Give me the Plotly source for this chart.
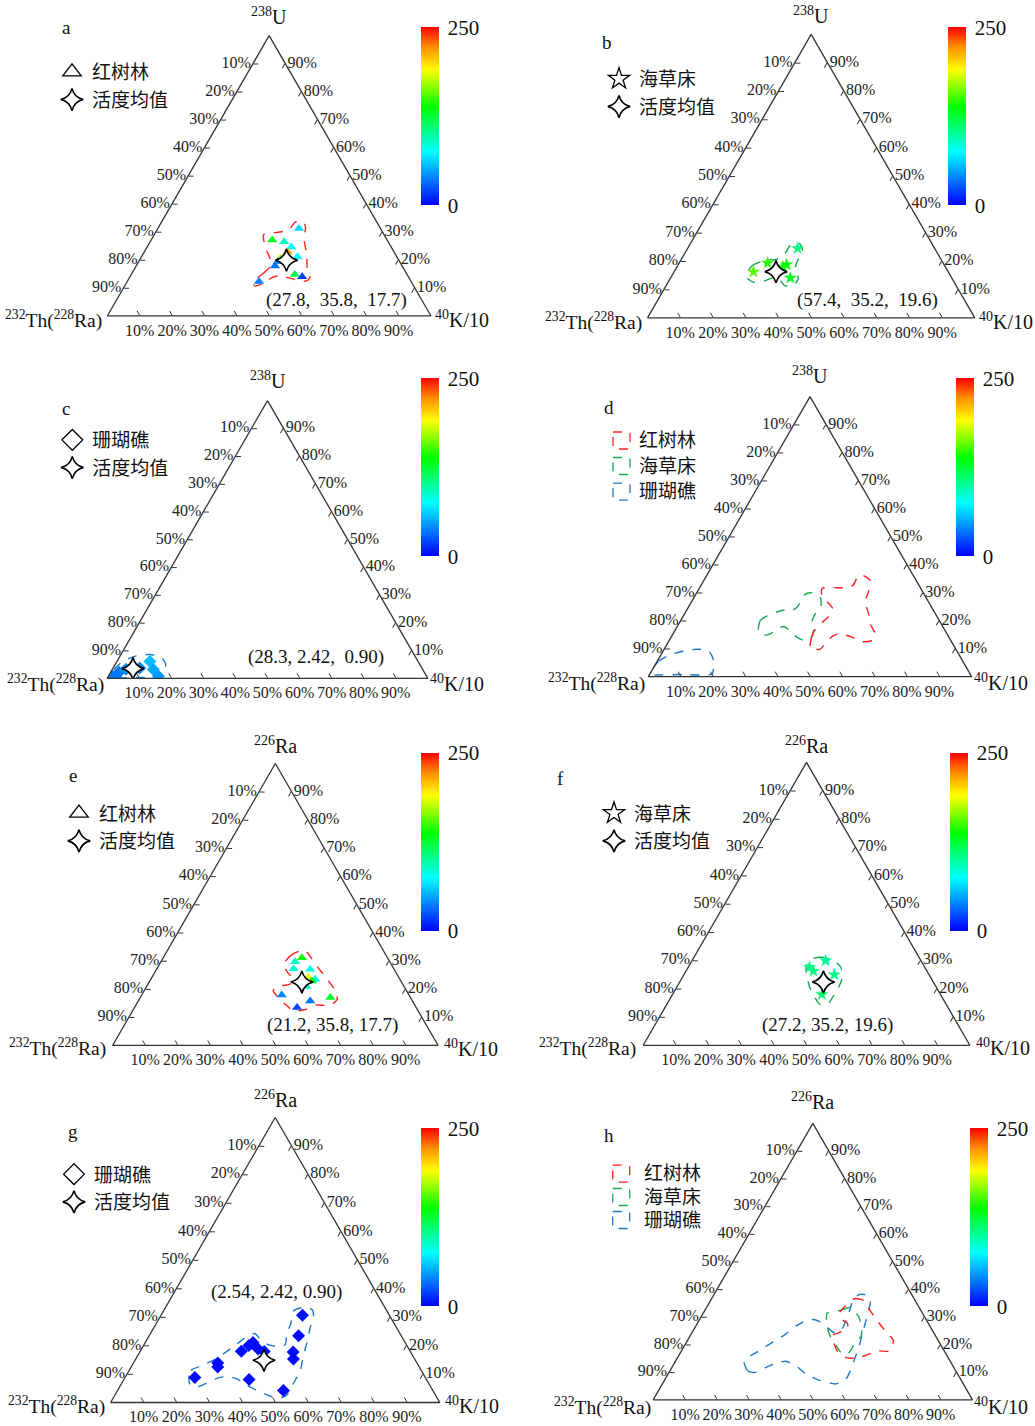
import plotly.graph_objects as go

PW, PH = 1035, 1426
SERIF = "Liberation Serif, Times New Roman, serif"
CJK = "Liberation Serif, Noto Sans CJK SC, sans-serif"

# ---------------- tick labels ----------------
TICK_PCT = [10, 20, 30, 40, 50, 60, 70, 80, 90]
TICK_TEXT = ['10%', '20%', '30%', '40%', '50%', '60%', '70%', '80%', '90%']
CB_TICKS = [0, 250]
CB_TEXT = ['0', '250']

# ---------------- point data (top component %, K/10 %) ----------------
# a: mangrove (U-Th-K)
A_U = [31.2, 27.1, 26.5, 24.6, 22.8, 21.1, 20.5, 19.3, 17.8, 14.8, 14.0, 12.3]
A_K = [43.6, 37.4, 41.4, 44.5, 44.3, 48.2, 43.2, 43.0, 42.9, 50.5, 53.2, 40.7]
A_V = [63, 130, 90, 75, 215, 75, 170, 45, 33, 120, 18, 37]
A_MEAN = (19.9, 45.4)
# b: seagrass
B_U = [16.2, 19.4, 18.0, 18.8, 14.1, 24.5]
B_K = [24.3, 27.0, 32.4, 33.1, 36.6, 33.6]
B_V = [155, 145, 140, 138, 130, 105]
B_MEAN = (16.3, 31.1)
# c: coral reef
C_U = [0.8, 2.2, 3.3, 3.7, 6.1, 3.2, 0.8, 0.5]
C_K = [2.3, 2.6, 4.2, 8.3, 10.3, 12.8, 15.6, 1.2]
C_V = [40, 35, 45, 40, 55, 50, 45, 35]
C_MEAN = (3.5, 6.3)
# e: mangrove (Ra-Th-K)
E_R = [31.1, 29.7, 27.2, 27.0, 24.3, 23.5, 22.9, 20.9, 17.9, 15.8, 13.5, 17.0]
E_K = [42.6, 41.2, 42.0, 47.2, 47.9, 50.5, 49.8, 49.1, 43.0, 52.8, 49.9, 58.4]
E_V = [140, 90, 85, 80, 185, 80, 130, 85, 40, 35, 20, 125]
E_MEAN = (22.5, 46.9)
# f: seagrass
F_R = [27.6, 26.2, 29.9, 25.0, 18.0]
F_K = [37.1, 39.0, 40.9, 46.0, 45.7]
F_V = [105, 105, 100, 105, 110]
F_MEAN = (22.4, 44.0)
# g: coral reef
G_R = [8.8, 13.9, 12.5, 18.0, 20.0, 21.1, 18.8, 17.9, 8.1, 4.2, 17.7, 15.3, 23.4, 30.6]
G_K = [21.2, 25.6, 26.3, 30.7, 32.0, 32.7, 35.4, 37.7, 38.0, 50.4, 46.6, 47.9, 45.4, 43.0]
G_V = [3, 4, 3, 3, 4, 3, 3, 4, 3, 3, 4, 3, 3, 4]
G_MEAN = (14.8, 39.2)

# ---------------- envelope contours (top %, K %) ----------------
CA_U = [12.3, 15.2, 18.4, 24.0, 28.9, 29.8, 30.6, 33.5, 33.9, 31.9, 27.5, 22.2, 17.5, 14.4, 12.5, 12.8, 13.4, 14.4, 13.7, 11.6, 10.7]
CA_K = [38.9, 40.6, 41.6, 37.0, 33.8, 37.5, 40.7, 41.3, 43.2, 45.3, 47.0, 50.5, 53.0, 55.6, 55.4, 52.3, 49.9, 46.2, 44.0, 42.4, 40.2]
CB_U = [16.0, 18.5, 20.5, 20.6, 22.6, 25.7, 26.3, 23.7, 19.7, 16.8, 13.9, 11.4, 11.4, 13.3, 14.1, 13.0, 12.5, 13.9]
CB_K = [22.5, 22.8, 26.0, 29.0, 30.6, 30.9, 33.3, 35.5, 35.8, 36.6, 39.2, 38.8, 36.2, 33.8, 31.2, 29.2, 26.3, 23.6]
CC_U = [0.2, 3.2, 6.1, 8.1, 8.6, 7.8, 5.3, 2.6, 0.6, 0.3, 0.1]
CC_K = [0.4, 0.5, 1.8, 5.0, 9.0, 12.7, 15.6, 16.5, 16.3, 9.0, 1.0]
CDR_U = [10.1, 14.2, 16.7, 18.8, 22.1, 24.6, 26.7, 28.6, 31.5, 31.8, 31.8, 32.7, 36.1, 36.1, 34.4, 30.4, 26.9, 22.3, 18.8, 15.9, 13.1, 12.5, 14.2, 15.3, 14.4, 12.1, 9.8, 9.8]
CDR_K = [45.0, 43.4, 43.2, 43.8, 45.3, 44.6, 42.0, 39.4, 38.0, 41.5, 45.3, 47.0, 46.9, 48.5, 51.4, 52.9, 53.6, 57.0, 59.2, 62.0, 62.9, 59.8, 55.7, 51.4, 49.7, 48.8, 48.3, 46.0]
CDG_U = [16.5, 20.0, 21.7, 23.7, 23.8, 25.2, 28.1, 29.8, 29.8, 28.1, 25.2, 22.5, 19.4, 17.1, 14.0, 12.8, 13.5, 15.1, 17.9, 17.1, 15.3, 14.8]
CDG_K = [25.8, 24.6, 25.9, 29.7, 32.8, 33.7, 33.4, 34.2, 36.7, 39.2, 40.8, 40.4, 40.8, 42.6, 43.5, 42.3, 40.1, 37.2, 33.1, 31.4, 30.1, 28.2]
CDB_U = [1.5, 5.5, 7.9, 9.4, 9.8, 9.2, 6.7, 3.2, 0.9, 0.8, 0.8]
CDB_K = [0.0, 0.4, 3.0, 7.0, 10.5, 14.0, 16.6, 18.6, 19.2, 10.3, 0.7]
CE_U = [33.8, 32.2, 28.7, 25.6, 23.5, 21.7, 20.9, 19.3, 17.0, 14.7, 12.3, 12.9, 14.3, 14.3, 16.4, 19.3, 23.5, 27.9, 31.6, 33.6]
CE_K = [41.3, 39.0, 38.1, 41.2, 43.8, 43.5, 40.0, 39.7, 42.4, 45.6, 49.4, 53.3, 55.1, 59.8, 60.8, 58.8, 54.2, 49.0, 44.9, 42.4]
CF_U = [30.3, 31.1, 30.3, 27.9, 24.4, 20.3, 17.4, 14.8, 14.4, 16.8, 20.3, 24.4, 27.9]
CF_K = [35.9, 38.6, 42.6, 46.4, 48.9, 49.6, 49.5, 49.3, 47.0, 44.2, 40.9, 37.9, 35.9]
CG_U = [9.0, 11.3, 13.0, 15.3, 19.4, 23.4, 24.2, 21.7, 20.3, 19.6, 20.3, 24.0, 27.7, 32.1, 33.3, 32.6, 30.3, 26.3, 21.1, 15.9, 11.3, 6.7, 2.6, 1.5, 2.1, 3.8, 6.1, 8.4, 9.2, 8.4, 6.7, 5.5, 6.4]
CG_K = [19.3, 18.7, 21.4, 24.3, 27.4, 30.0, 31.7, 35.0, 37.7, 41.2, 42.9, 41.5, 40.9, 39.5, 41.5, 44.9, 46.5, 47.5, 49.1, 50.5, 52.0, 52.2, 52.2, 50.5, 47.9, 43.4, 38.2, 34.0, 30.5, 27.8, 25.6, 23.6, 20.9]
CHR_U = [31.4, 36.6, 36.0, 33.1, 29.6, 26.2, 23.3, 21.5, 17.7, 17.7, 16.3, 15.1, 15.3, 17.4, 20.3, 23.3, 24.4, 25.6, 27.7, 28.8]
CHR_K = [42.6, 44.8, 47.9, 50.9, 54.8, 58.7, 62.4, 64.5, 65.2, 61.4, 58.8, 56.2, 52.8, 49.1, 46.5, 44.5, 46.1, 48.0, 47.0, 45.0]
CHG_U = [31.4, 32.5, 33.4, 30.2, 26.2, 23.0, 20.7, 18.4, 16.5, 16.8, 19.8, 22.7, 25.6, 29.1]
CHG_K = [38.8, 42.6, 44.8, 49.2, 52.2, 53.6, 52.8, 52.9, 52.5, 50.7, 47.3, 44.2, 41.9, 39.7]
CHB_U = [13.4, 10.5, 9.9, 11.6, 13.4, 14.0, 12.2, 9.3, 7.0, 5.8, 7.6, 11.6, 15.1, 18.6, 23.3, 27.9, 32.5, 36.0, 38.1, 38.1, 36.0, 32.5, 28.8, 25.0, 24.4, 26.2, 28.5, 29.1, 28.5, 26.8, 23.8, 21.5, 19.2, 16.8, 15.3]
CHB_K = [21.8, 24.4, 26.8, 29.2, 32.1, 34.5, 38.7, 43.3, 48.8, 54.3, 56.6, 56.3, 55.6, 55.0, 53.7, 52.5, 51.3, 50.0, 47.4, 45.4, 44.6, 45.3, 46.0, 46.3, 44.4, 41.4, 37.6, 35.6, 33.2, 31.4, 29.6, 27.6, 25.4, 23.4, 21.7]

MEAN_TEXT = {
    'a': '(27.8,  35.8,  17.7)', 'b': '(57.4,  35.2,  19.6)', 'c': '(28.3, 2.42,  0.90)',
    'e': '(21.2, 35.8, 17.7)', 'f': '(27.2, 35.2, 19.6)', 'g': '(2.54, 2.42, 0.90)',
}
TOP_LABEL = {'U': '<sup>238</sup>U', 'Ra': '<sup>226</sup>Ra'}
BL_LABEL = '<sup>232</sup>Th(<sup>228</sup>Ra)'
BR_LABEL = '<sup>40</sup>K/10'
NAMES = {'m': '红树林', 's': '海草床', 'c': '珊瑚礁', 'mean': '活度均值'}

RED, GREEN, BLUE = '#ff2020', '#14a850', '#1f78c8'
JET = [[0, '#0000ff'], [0.3, '#00ffff'], [0.55, '#00ff00'], [0.76, '#ffff00'],
       [0.89, '#ff8c00'], [1, '#ff0000']]

# ---------------- layout geometry (pixels in reference) ----------------
# panel: (bottom-left x, bottom-right x, apex y, base y)
FRAMES = {
    'a': (110, 428.3, 33.3, 318.3), 'b': (650, 972.3, 32.3, 320),
    'c': (111.7, 423.3, 396.7, 682.3), 'd': (653.3, 966.7, 392.3, 681),
    'e': (114, 436.7, 762.3, 1046.7), 'f': (644, 969, 761.7, 1046),
    'g': (112.7, 437.7, 1115.7, 1404.3), 'h': (659, 966.7, 1118.3, 1405),
}
CBAR = {  # left x, top y
    'a': (420.7, 27.3), 'b': (948.3, 27.3), 'c': (420.7, 378.3), 'd': (956, 378.3),
    'e': (421, 752.7), 'f': (950, 752.7), 'g': (421, 1128.3), 'h': (970, 1128.3),
}
LETTER_POS = {'a': (66.5, 28), 'b': (606.7, 42.5), 'c': (65.5, 408), 'd': (608.7, 407.5),
              'e': (72.5, 775), 'f': (560.7, 778), 'g': (73.3, 1131), 'h': (608.7, 1135)}
MEAN_POS = {'a': (336, 300), 'b': (867, 300), 'c': (316, 657), 'e': (332, 1025),
            'f': (827, 1025), 'g': (276, 1292)}
LEGEND_POS = {'a': (73, 72), 'b': (620, 79), 'c': (73.3, 440), 'e': (80, 813.3),
              'f': (615, 813.3), 'g': (75, 1174.3)}

PANELS = ['a', 'b', 'c', 'd', 'e', 'f', 'g', 'h']
TOPS = {'a': 'U', 'b': 'U', 'c': 'U', 'd': 'U', 'e': 'Ra', 'f': 'Ra', 'g': 'Ra', 'h': 'Ra'}


def domain(p):
    bl, br, top, base = FRAMES[p]
    W, H = br - bl, base - top
    Wp = (W + H * 2 / 3 ** 0.5) / 2
    Hp = Wp * 3 ** 0.5 / 2
    cx, cy = (bl + br) / 2, base - H / 2
    return dict(x=[(cx - Wp / 2) / PW, (cx + Wp / 2) / PW],
                y=[1 - (cy + Hp / 2) / PH, 1 - (cy - Hp / 2) / PH])


def axis():
    return dict(showgrid=False, showline=True, linecolor='#333', linewidth=1.3,
                ticks='inside', ticklen=5, tickcolor='#333', tickwidth=1,
                tickmode='array', tickvals=[100 - p for p in TICK_PCT], ticktext=TICK_TEXT,
                tickfont=dict(family=SERIF, size=16, color='#222'), min=0,
                title=dict(text=''))


fig = go.Figure()


def sid(i):
    return 'ternary' if i == 0 else f'ternary{i + 1}'


def cid(i):
    return 'coloraxis' if i == 0 else f'coloraxis{i + 1}'


def lid(i):
    return 'legend' if i == 0 else f'legend{i + 1}'


def contour(i, U, K, color):
    U2 = list(U) + [U[0]]
    K2 = list(K) + [K[0]]
    fig.add_trace(go.Scatterternary(
        a=U2, c=K2, b=[100 - u - k for u, k in zip(U2, K2)], subplot=sid(i), mode='lines',
        line=dict(color=color, width=1.4, dash='dash', shape='spline', smoothing=0.6),
        showlegend=False, hoverinfo='skip'))


def points(i, U, K, V, symbol, size):
    fig.add_trace(go.Scatterternary(
        a=U, c=K, b=[100 - u - k for u, k in zip(U, K)], subplot=sid(i), mode='markers',
        marker=dict(symbol=symbol, size=size, color=V, coloraxis=cid(i), line=dict(width=0)),
        showlegend=False, hoverinfo='skip'))


def legend_symbol(i, symbol, name):
    fig.add_trace(go.Scatterternary(
        a=[None], b=[None], c=[None], subplot=sid(i), mode='markers', name=name,
        marker=dict(symbol=symbol, size=16, color='black', line=dict(width=1.3, color='black')),
        legend=lid(i), showlegend=True, hoverinfo='skip'))


def mean_star(i, m, legend=True):
    U, K = m
    fig.add_trace(go.Scatterternary(
        a=[U], c=[K], b=[100 - U - K], subplot=sid(i), mode='markers', name=NAMES['mean'],
        marker=dict(symbol='star-diamond', size=16, color='white', line=dict(width=1.6, color='black')),
        legend=lid(i), showlegend=legend, hoverinfo='skip'))


def dummy_colour(i):
    fig.add_trace(go.Scatterternary(
        a=[33], b=[33], c=[34], subplot=sid(i), mode='markers',
        marker=dict(size=1, color=[0], coloraxis=cid(i), opacity=0),
        showlegend=False, hoverinfo='skip'))


# panel a
contour(0, CA_U, CA_K, RED)
points(0, A_U, A_K, A_V, 'triangle-up', 9)
legend_symbol(0, 'triangle-up-open', NAMES['m'])
mean_star(0, A_MEAN)
# panel b
contour(1, CB_U, CB_K, GREEN)
points(1, B_U, B_K, B_V, 'star', 10)
legend_symbol(1, 'star-open', NAMES['s'])
mean_star(1, B_MEAN)
# panel c
contour(2, CC_U, CC_K, BLUE)
points(2, C_U, C_K, C_V, 'diamond', 10)
legend_symbol(2, 'diamond-open', NAMES['c'])
mean_star(2, C_MEAN)
# panel d
dummy_colour(3)
contour(3, CDB_U, CDB_K, BLUE)
contour(3, CDG_U, CDG_K, GREEN)
contour(3, CDR_U, CDR_K, RED)
# panel e
contour(4, CE_U, CE_K, RED)
points(4, E_R, E_K, E_V, 'triangle-up', 9)
legend_symbol(4, 'triangle-up-open', NAMES['m'])
mean_star(4, E_MEAN)
# panel f
contour(5, CF_U, CF_K, GREEN)
points(5, F_R, F_K, F_V, 'star', 10)
legend_symbol(5, 'star-open', NAMES['s'])
mean_star(5, F_MEAN)
# panel g
contour(6, CG_U, CG_K, BLUE)
points(6, G_R, G_K, G_V, 'diamond', 10)
legend_symbol(6, 'diamond-open', NAMES['c'])
mean_star(6, G_MEAN)
# panel h
dummy_colour(7)
contour(7, CHB_U, CHB_K, BLUE)
contour(7, CHG_U, CHG_K, GREEN)
contour(7, CHR_U, CHR_K, RED)

layout = dict(width=PW, height=PH, margin=dict(l=0, r=0, t=0, b=0),
              paper_bgcolor='white', plot_bgcolor='white',
              font=dict(family=SERIF, color='#111'))
annotations = []
shapes = []
for i, p in enumerate(PANELS):
    layout[sid(i)] = dict(domain=domain(p), sum=100, bgcolor='white',
                          aaxis=axis(), baxis=axis(), caxis=axis())
    cx, cy = CBAR[p]
    layout[cid(i)] = dict(
        cmin=0, cmax=250, colorscale=JET,
        colorbar=dict(x=cx / PW, xanchor='left', xpad=0, y=1 - cy / PH, yanchor='top', ypad=0,
                      lenmode='pixels', len=178, thicknessmode='pixels', thickness=17.5,
                      outlinewidth=0, tickmode='array', tickvals=CB_TICKS, ticktext=CB_TEXT,
                      ticks='outside', ticklen=5, tickcolor='rgba(0,0,0,0)',
                      tickfont=dict(family=SERIF, size=21, color='#111')))
    bl, br, top, base = FRAMES[p]
    apx = (bl + br) / 2
    annotations += [
        dict(x=apx / PW, y=1 - (top - 3) / PH, xref='paper', yref='paper', xanchor='center',
             yanchor='bottom', text=TOP_LABEL[TOPS[p]], showarrow=False,
             font=dict(family=SERIF, size=20, color='#111')),
        dict(x=(bl - 6) / PW, y=1 - (base + 1) / PH, xref='paper', yref='paper', xanchor='right',
             yanchor='middle', text=BL_LABEL, showarrow=False,
             font=dict(family=SERIF, size=19.5, color='#111')),
        dict(x=(br + 5) / PW, y=1 - (base + 1) / PH, xref='paper', yref='paper', xanchor='left',
             yanchor='middle', text=BR_LABEL, showarrow=False,
             font=dict(family=SERIF, size=20, color='#111')),
    ]
    lx, ly = LETTER_POS[p]
    annotations.append(dict(x=lx / PW, y=1 - ly / PH, xref='paper', yref='paper', xanchor='center',
                            yanchor='middle', text=p, showarrow=False,
                            font=dict(family=SERIF, size=19, color='#111')))
    if p in MEAN_POS:
        mx, my = MEAN_POS[p]
        annotations.append(dict(x=mx / PW, y=1 - my / PH, xref='paper', yref='paper',
                                xanchor='center', yanchor='middle', text=MEAN_TEXT[p],
                                showarrow=False, font=dict(family=SERIF, size=19, color='#111')))
    if p in LEGEND_POS:
        sx, sy = LEGEND_POS[p]
        layout[lid(i)] = dict(x=(sx - 21) / PW, xanchor='left', y=1 - (sy - 19) / PH, yanchor='top',
                              bgcolor='rgba(0,0,0,0)', borderwidth=0, traceorder='normal',
                              font=dict(family=CJK, size=19, color='#111'))

# manual legends for d and h (dashed boxes)
BOX_LEG = {'d': (613, 636.7, [440.5, 466, 491.7]), 'h': (612.7, 641.7, [1173.7, 1197, 1220])}
for p, (bx, tx, rows) in BOX_LEG.items():
    for (name, col), ry in zip([(NAMES['m'], RED), (NAMES['s'], GREEN), (NAMES['c'], BLUE)], rows):
        shapes.append(dict(type='rect', xref='paper', yref='paper', x0=bx / PW, x1=(bx + 17) / PW,
                           y0=1 - (ry - 8.5) / PH, y1=1 - (ry + 8.5) / PH,
                           line=dict(color=col, width=1.3, dash='dash')))
        annotations.append(dict(x=tx / PW, y=1 - ry / PH, xref='paper', yref='paper', xanchor='left',
                                yanchor='middle', text=name, showarrow=False,
                                font=dict(family=CJK, size=19, color='#111')))

layout['annotations'] = annotations
layout['shapes'] = shapes
fig.update_layout(**layout)

fig.write_html("out.html", config={'displayModeBar': False},
               post_script="document.body.style.margin='0';document.body.style.overflow='hidden';")
